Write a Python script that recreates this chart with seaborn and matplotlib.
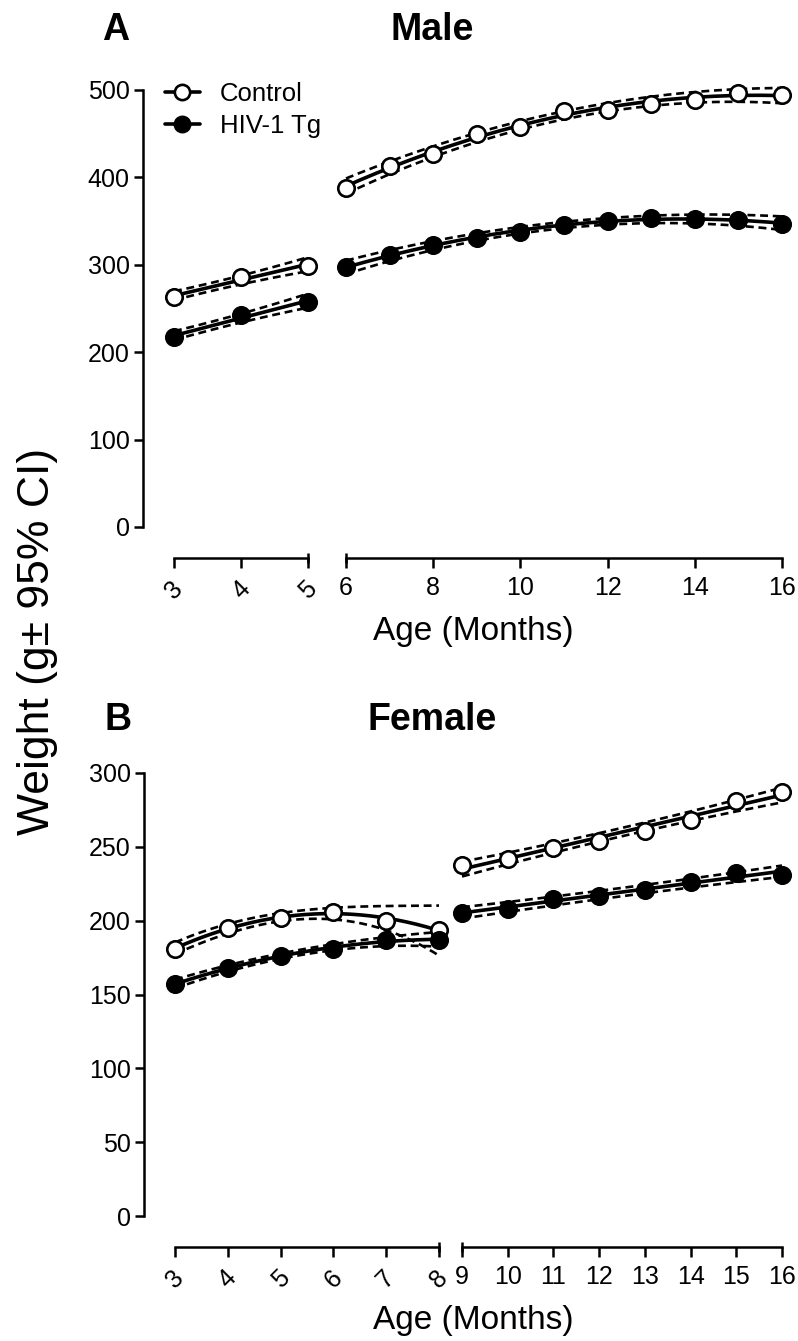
import numpy as np
import matplotlib
matplotlib.use("Agg")
import matplotlib.pyplot as plt
from matplotlib.lines import Line2D
import seaborn as sns

# -------------------- Data (grams) --------------------
male_m1 = [3, 4, 5]
male_m2 = [6, 7, 8, 9, 10, 11, 12, 13, 14, 15, 16]
male_ctrl1 = [263, 286, 299]
male_tg1 = [217, 243, 257]
male_ctrl2 = [388, 413, 427, 450, 458, 476, 477, 484, 489, 497, 494]
male_tg2 = [297, 311, 323, 331, 337, 346, 350, 354, 352, 351, 347]
# half width of the 95% CI bands
male_ctrl1_ci = [5, 5, 8]
male_tg1_ci = [5, 5, 8]
male_ctrl2_ci = [9, 7, 6, 5, 5, 5, 5, 5, 6, 7, 9]
male_tg2_ci = [8, 6, 5, 4, 4, 4, 4, 4, 5, 6, 8]

female_m1 = [3, 4, 5, 6, 7, 8]
female_m2 = [9, 10, 11, 12, 13, 14, 15, 16]
female_ctrl1 = [181, 195, 202, 206, 200, 194]
female_tg1 = [157, 168, 176, 181, 187, 187]
female_ctrl2 = [238, 242, 249, 254, 261, 268, 281, 287]
female_tg2 = [205, 208, 215, 217, 221, 226, 232, 231]
female_ctrl1_ci = [4, 3, 3, 4, 8, 17]
female_tg1_ci = [3, 2, 2, 2, 3, 5]
female_ctrl2_ci = [5, 4, 3, 3, 3, 3, 4, 5]
female_tg2_ci = [4, 3, 3, 3, 3, 3, 3, 4]

male_yticks = [0, 100, 200, 300, 400, 500]
female_yticks = [0, 50, 100, 150, 200, 250, 300]

# -------------------- Style --------------------
sns.set_style("ticks")
plt.rcParams['font.family'] = ['Liberation Sans', 'DejaVu Sans']
plt.rcParams.update({'axes.linewidth': 1.8, 'text.color': 'black',
                     'axes.edgecolor': 'black', 'axes.labelcolor': 'black',
                     'xtick.color': 'black', 'ytick.color': 'black'})

W, H = 798, 1341
fig = plt.figure(figsize=(W / 100, H / 100), dpi=100)
fig.patch.set_facecolor('white')

OFF = 31 * 0.72  # spine offset, points


def rect(x0, x1, ytop, ybot):
    return [x0 / W, 1 - ybot / H, (x1 - x0) / W, (ybot - ytop) / H]


def draw_group(ax, months, vals, ci, deg, filled):
    x = np.array(months, float)
    y = np.array(vals, float)
    xs = np.linspace(x.min(), x.max(), 200)
    fit = np.polyval(np.polyfit(x, y, deg), xs)
    hw = np.polyval(np.polyfit(x, np.array(ci, float), min(3, len(x) - 1)), xs)
    for sign in (-1, 1):
        sns.lineplot(x=xs, y=fit + sign * hw, ax=ax, color='black', lw=1.9,
                     linestyle=(0, (3.0, 1.8)), clip_on=False, zorder=2)
    sns.lineplot(x=xs, y=fit, ax=ax, color='black', lw=2.6, clip_on=False, zorder=3)
    sns.scatterplot(x=x, y=y, ax=ax, marker='o', s=140, color='black',
                    facecolor='black' if filled else 'white', edgecolor='black',
                    linewidth=1.9, clip_on=False, zorder=4)


def style_axes(ax1, ax2, ylim, yticks, xt1, xt2):
    for ax in (ax1, ax2):
        ax.set_ylim(*ylim)
        ax.set_facecolor('none')
        ax.spines['top'].set_visible(False)
        ax.spines['right'].set_visible(False)
        ax.spines['bottom'].set_position(('outward', OFF))
        ax.tick_params(axis='x', which='major', direction='out', length=7.2,
                       width=1.8, labelsize=18, pad=6)
        ax.tick_params(axis='x', which='minor', direction='inout', length=7.2,
                       width=1.8)
        ax.xaxis.remove_overlapping_locs = False
    ax1.set_xlim(xt1[0], xt1[-1])
    ax2.set_xlim(xt2[0], xt2[-1])
    ax1.set_xticks(xt1)
    ax2.set_xticks(xt2)
    ax1.set_xticks([xt1[-1]], minor=True)
    ax2.set_xticks([xt2[0]], minor=True)
    ax1.tick_params(axis='x', labelrotation=45)
    ax1.spines['left'].set_position(('outward', OFF))
    ax1.set_yticks(yticks)
    ax1.tick_params(axis='y', direction='out', length=6.5, width=1.8,
                    labelsize=18, pad=3)
    ax2.spines['left'].set_visible(False)
    ax2.tick_params(axis='y', left=False, labelleft=False)


# -------------------- Panel A: Male --------------------
axA1 = fig.add_axes(rect(174, 308, 90, 527))
axA2 = fig.add_axes(rect(346, 782, 90, 527))
draw_group(axA1, male_m1, male_ctrl1, male_ctrl1_ci, 1, False)
draw_group(axA1, male_m1, male_tg1, male_tg1_ci, 1, True)
draw_group(axA2, male_m2, male_ctrl2, male_ctrl2_ci, 2, False)
draw_group(axA2, male_m2, male_tg2, male_tg2_ci, 2, True)
style_axes(axA1, axA2, (0, 500), male_yticks, male_m1, [6, 8, 10, 12, 14, 16])

# -------------------- Panel B: Female --------------------
axB1 = fig.add_axes(rect(175, 439, 773, 1216))
axB2 = fig.add_axes(rect(462, 782, 773, 1216))
draw_group(axB1, female_m1, female_ctrl1, female_ctrl1_ci, 2, False)
draw_group(axB1, female_m1, female_tg1, female_tg1_ci, 2, True)
draw_group(axB2, female_m2, female_ctrl2, female_ctrl2_ci, 1, False)
draw_group(axB2, female_m2, female_tg2, female_tg2_ci, 1, True)
style_axes(axB1, axB2, (0, 300), female_yticks, female_m1, female_m2)

# -------------------- Text --------------------
fig.text(116 / W, 1 - 30 / H, 'A', fontsize=27, fontweight='bold', ha='center', va='center')
fig.text(432 / W, 1 - 30 / H, 'Male', fontsize=27, fontweight='bold', ha='center', va='center')
fig.text(118 / W, 1 - 720 / H, 'B', fontsize=27, fontweight='bold', ha='center', va='center')
fig.text(432 / W, 1 - 720 / H, 'Female', fontsize=27, fontweight='bold', ha='center', va='center')
fig.text(473 / W, 1 - 632 / H, 'Age (Months)', fontsize=24, ha='center', va='center')
fig.text(473 / W, 1 - 1320 / H, 'Age (Months)', fontsize=24, ha='center', va='center')
fig.text(38 / W, 1 - 641 / H, 'Weight (g\u00b1 95% CI)', fontsize=32, rotation=90,
         ha='center', va='center')

handles = [
    Line2D([], [], color='black', lw=2.6, marker='o', ms=11, mfc='white', mec='black', mew=1.9),
    Line2D([], [], color='black', lw=2.6, marker='o', ms=11, mfc='black', mec='black', mew=1.9),
]
fig.legend(handles, ['Control', 'HIV-1 Tg'], loc='upper left',
           bbox_to_anchor=(165 / W, 1 - 82 / H), frameon=False, fontsize=18.5,
           handlelength=1.35, handletextpad=0.8, labelspacing=0.3,
           borderpad=0, borderaxespad=0)

plt.savefig('out.png', dpi=100, facecolor='white')
